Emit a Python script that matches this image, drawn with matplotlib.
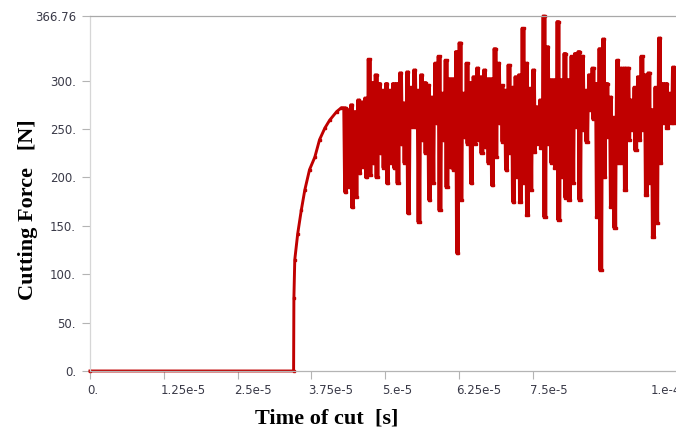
import numpy as np
import matplotlib
matplotlib.use("Agg")
import matplotlib.pyplot as plt
import matplotlib.transforms as mtrans

# onset / ramp-up of the force (time in 1e-5 s, force in N)
ramp_t = [0.0, 3.45, 3.455, 3.47, 3.52, 3.58, 3.64, 3.72, 3.81, 3.89, 3.98, 4.06, 4.18, 4.26]
ramp_f = [0.0, 0.0, 75, 115, 142, 166, 187, 208, 221, 239, 251, 259, 268, 272]

# steady cutting: upper / lower swing in each short time slice, read left to right
f_hi = [272, 270, 275, 268, 280, 278, 282, 322, 298, 306, 297, 290, 297, 290,
        297, 297, 308, 277, 309, 293, 311, 290, 306, 298, 295, 283, 318, 325, 287, 321,
        302, 302, 330, 339, 287, 318, 298, 304, 313, 304,
        311, 302, 302, 333, 318, 295, 290, 316, 293, 304, 306, 354, 318, 292, 311, 273,
        280, 366.76, 335, 301, 301, 361, 301, 328, 301, 325, 328,
        330, 325, 290, 306, 313, 297, 333, 343, 297, 283, 262, 321, 313, 313, 313, 280,
        293, 304, 325, 306, 308, 270, 293, 344, 297, 297, 287, 314]
f_lo = [185, 190, 169, 180, 205, 211, 200, 202, 215, 200, 225, 210, 194, 215,
        210, 194, 235, 215, 163, 252, 252, 154, 239, 225, 177, 194, 256, 166, 239, 190,
        211, 208, 122, 177, 242, 235, 194, 235, 239, 225,
        231, 215, 192, 221, 256, 237, 208, 225, 175, 200, 175, 194, 161, 187, 226, 235,
        230, 159, 235, 215, 210, 156, 200, 179, 177, 194, 252,
        177, 249, 237, 270, 260, 159, 104, 200, 242, 169, 148, 215, 215, 187, 239, 249,
        228, 239, 249, 182, 194, 138, 153, 215, 256, 251, 256, 256]
f_end = 270

xticks = [0, 1.25e-5, 2.5e-5, 3.75e-5, 5e-5, 6.25e-5, 7.5e-5]
xlabels = ["0.", "1.25e-5", "2.5e-5", "3.75e-5", "5.e-5", "6.25e-5", "7.5e-5"]
yticks = [0, 50, 100, 150, 200, 250, 300, 366.76]
ylabels = ["0.", "50.", "100.", "150.", "200.", "250.", "300.", "366.76"]

# the signal swings between the two limits several times within each slice
noise = []
for a, b in zip(f_hi, f_lo):
    noise += [a, b, a, b]
noise.append(f_end)
noise_t = np.linspace(4.30e-5, 9.93e-5, len(noise))

t = np.concatenate([np.array(ramp_t) * 1e-5, noise_t])
f = np.concatenate([ramp_f, noise])

fig = plt.figure(figsize=(6.76, 4.33), dpi=100)
ax = fig.add_axes([90 / 676, 62 / 433, 586 / 676, 355 / 433])

ax.plot(t, f, color="#c00000", lw=2.1, marker="s", ms=1.6, clip_on=False)

ax.set_xlim(0, 9.93e-5)
ax.set_ylim(0, 366.76)

ax.set_xticks(xticks)
ax.set_xticklabels(xlabels, ha="left")
ax.set_yticks(yticks)
ax.set_yticklabels(ylabels)
ax.tick_params(axis="x", direction="out", length=6, width=0.8, color="#b4b4b4",
               pad=3, labelsize=8.5, labelcolor="#3a3a48")
ax.tick_params(axis="y", direction="out", length=6, width=0.8, color="#b4b4b4",
               pad=4, labelsize=8.5, labelcolor="#3a3a48")

# x labels start just left of their tick
off = mtrans.ScaledTranslation(-3 / 100, 0, fig.dpi_scale_trans)
for lab in ax.get_xticklabels():
    lab.set_transform(lab.get_transform() + off)

# last tick label sits at the right border, partly cut like the original
fig.text(651 / 676, 1 - 390 / 433, "1.e-4", fontsize=8.5, color="#3a3a48", ha="left", va="center")

ax.spines["right"].set_visible(False)
ax.spines["left"].set_color("#d6d6d6")
ax.spines["bottom"].set_color("#b4b4b4")
ax.spines["top"].set_color("#a8a8a8")
for s in ["left", "bottom", "top"]:
    ax.spines[s].set_linewidth(0.9)

fig.text(327 / 676, 1 - 419 / 433, "Time of cut  [s]", fontsize=16, fontweight="bold",
         family="Liberation Serif", ha="center", va="center")
fig.text(28 / 676, 1 - 210 / 433, "Cutting Force   [N]", fontsize=16, fontweight="bold",
         family="Liberation Serif", ha="center", va="center", rotation=90)

fig.savefig("out.png", dpi=100)
